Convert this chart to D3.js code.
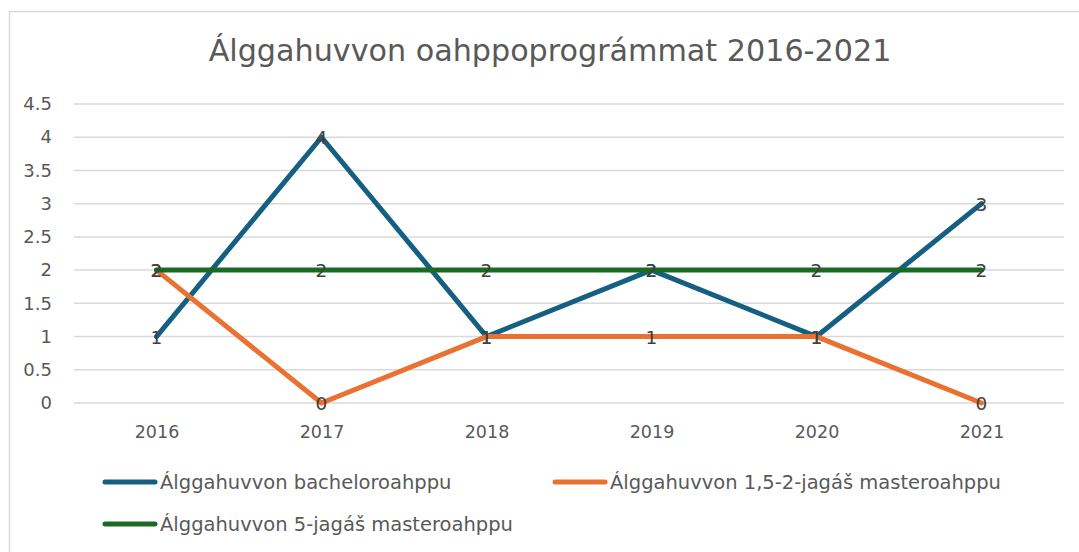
<!DOCTYPE html>
<html>
<head>
<meta charset="utf-8">
<script src="https://cdn.jsdelivr.net/npm/d3@7"></script>
<style>
  body { margin: 0; background: #fff; }
  svg { display: block; font-family: "DejaVu Sans", sans-serif; }
</style>
</head>
<body>
<div id="chart"></div>
<script>
var years = ["2016", "2017", "2018", "2019", "2020", "2021"];
var bachelor = [1, 4, 1, 2, 1, 3];
var master2 = [2, 0, 1, 1, 1, 0];
var master5 = [2, 2, 2, 2, 2, 2];
var seriesNames = ["Álggahuvvon bacheloroahppu", "Álggahuvvon 1,5-2-jagáš masteroahppu", "Álggahuvvon 5-jagáš masteroahppu"];
var yTicks = [0, 0.5, 1, 1.5, 2, 2.5, 3, 3.5, 4, 4.5];
var title = "Álggahuvvon oahppoprográmmat 2016-2021";

var colors = ["#156082", "#E97132", "#196B24"];
var series = [bachelor, master2, master5];

var W = 1079, H = 552;
var plot = { left: 74, right: 1064, top: 104, bottom: 403 };

var svg = d3.select("#chart").append("svg")
    .attr("width", W)
    .attr("height", H);

// outer chart border
svg.append("rect")
    .attr("x", 9.5).attr("y", 11.5)
    .attr("width", W + 10).attr("height", H + 10)
    .attr("fill", "none")
    .attr("stroke", "#d9d9d9")
    .attr("stroke-width", 1.5);

svg.append("text")
    .attr("x", 550).attr("y", 61)
    .attr("text-anchor", "middle")
    .attr("font-size", 30.2)
    .attr("fill", "#595959")
    .text(title);

var x = d3.scalePoint().domain(years).range([plot.left, plot.right]).padding(0.5);
var y = d3.scaleLinear().domain([0, 4.5]).range([plot.bottom, plot.top]);

// gridlines
svg.append("g").selectAll("line")
    .data(yTicks)
    .enter().append("line")
    .attr("x1", plot.left).attr("x2", plot.right)
    .attr("y1", function(d) { return y(d); })
    .attr("y2", function(d) { return y(d); })
    .attr("stroke", "#d9d9d9")
    .attr("stroke-width", 1.5);

var yAxis = d3.axisLeft(y).tickValues(yTicks).tickSize(0).tickPadding(0)
    .tickFormat(function(d) { return String(d); });
var gy = svg.append("g").attr("transform", "translate(52,0)").call(yAxis);
gy.attr("font-family", null).attr("font-size", null);
gy.select(".domain").remove();
gy.selectAll("text").attr("font-size", 18).attr("fill", "#595959");

var xAxis = d3.axisBottom(x).tickSize(0).tickPadding(0);
var gx = svg.append("g").attr("transform", "translate(0,426)").call(xAxis);
gx.attr("font-family", null).attr("font-size", null);
gx.select(".domain").remove();
gx.selectAll("text").attr("font-size", 17.5).attr("fill", "#595959");

var line = d3.line()
    .x(function(d, i) { return x(years[i]); })
    .y(function(d) { return y(d); });

series.forEach(function(s, k) {
    svg.append("path")
        .datum(s)
        .attr("d", line)
        .attr("fill", "none")
        .attr("stroke", colors[k])
        .attr("stroke-width", 5)
        .attr("stroke-linejoin", "round")
        .attr("stroke-linecap", "round");
});

// data labels, centred on the points
series.forEach(function(s, k) {
    svg.append("g").selectAll("text")
        .data(s)
        .enter().append("text")
        .attr("x", function(d, i) { return x(years[i]); })
        .attr("y", function(d) { return y(d); })
        .attr("dy", "0.38em")
        .attr("text-anchor", "middle")
        .attr("font-size", 18.5)
        .attr("fill", "#404040")
        .text(function(d) { return d; });
});

// legend
var legendPos = [[105, 482], [555, 482], [105, 524]];
seriesNames.forEach(function(name, k) {
    var g = svg.append("g").attr("transform", "translate(" + legendPos[k][0] + "," + legendPos[k][1] + ")");
    g.append("line")
        .attr("x1", 0).attr("x2", 50)
        .attr("stroke", colors[k])
        .attr("stroke-width", 5)
        .attr("stroke-linecap", "round");
    g.append("text")
        .attr("x", 55).attr("dy", "0.35em")
        .attr("font-size", 19.5)
        .attr("fill", "#595959")
        .text(name);
});
</script>
</body>
</html>
